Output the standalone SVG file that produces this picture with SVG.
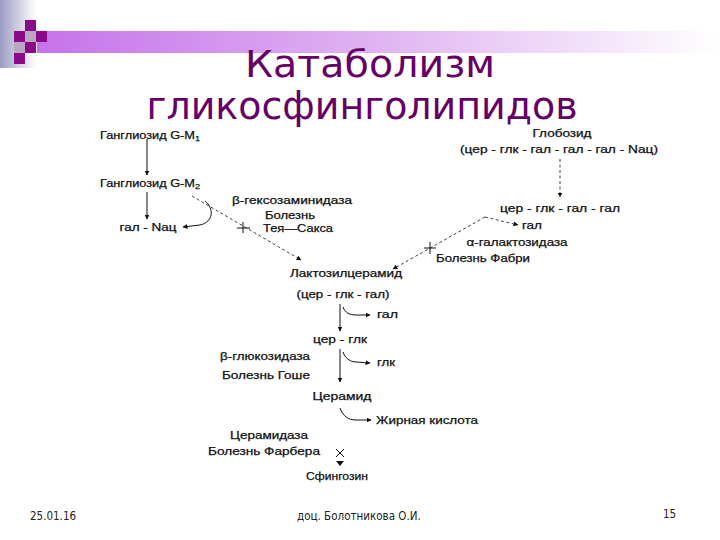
<svg xmlns="http://www.w3.org/2000/svg" width="720" height="540" viewBox="0 0 720 540">
<defs>
<linearGradient id="gStrip" x1="0" y1="0" x2="1" y2="0">
<stop offset="0" stop-color="#9c9cc4"/>
<stop offset="1" stop-color="#ffffff"/>
</linearGradient>
<linearGradient id="gBar" x1="0" y1="0" x2="1" y2="0">
<stop offset="0" stop-color="#c673ea"/>
<stop offset="0.5" stop-color="#e0b4f2"/>
<stop offset="1" stop-color="#ffffff"/>
</linearGradient>
<marker id="ah" viewBox="0 0 10 10" refX="9" refY="5" markerWidth="5" markerHeight="5" orient="auto" markerUnits="userSpaceOnUse">
<path d="M0,0 L10,5 L0,10 z" fill="#111"/>
</marker>
</defs>
<style>
.t{font-family:"Liberation Sans",Arial,sans-serif;font-size:10.5px;fill:#111;text-anchor:middle;stroke:#111;stroke-width:0.25}
.tl{text-anchor:start}
.title{font-family:"DejaVu Sans",Verdana,sans-serif;fill:#660066;text-anchor:middle}
.foot{font-family:"DejaVu Sans Condensed","Liberation Sans Narrow",sans-serif;font-size:11.5px;fill:#222}
.ln{fill:none;stroke:#111;stroke-width:1}
.dl{fill:none;stroke:#111;stroke-width:0.8;stroke-dasharray:3 2.5}
.sq{fill:#8a0a8a}
.sg{fill:#b8a8c0}
</style>
<g id="decor">
<rect x="0" y="0" width="36" height="68" fill="url(#gStrip)"/>
<rect x="37" y="31" width="683" height="22" fill="url(#gBar)"/>
<rect class="sq" x="25" y="20" width="11" height="11"/>
<rect class="sq" x="14" y="31" width="11" height="11"/>
<rect class="sg" x="25" y="31" width="11" height="11"/>
<rect class="sq" x="36" y="31" width="11" height="11"/>
<rect class="sg" x="14" y="42" width="11" height="11"/>
<rect class="sq" x="25" y="42" width="11" height="11"/>
<rect class="sq" x="14" y="53" width="11" height="11"/>
</g>
<g id="title">
<text class="title" x="370" y="77" font-size="37" textLength="250" lengthAdjust="spacingAndGlyphs">Катаболизм</text>
<text class="title" x="362" y="119" font-size="39" textLength="431" lengthAdjust="spacingAndGlyphs">гликосфинголипидов</text>
</g>
<g id="connectors">
<line class="ln" x1="147" y1="139" x2="147" y2="175" marker-end="url(#ah)"/>
<line class="ln" x1="147" y1="192" x2="147" y2="219" marker-end="url(#ah)"/>
<path class="ln" d="M205,201 C214,208 214,222 200,225 L183,227" marker-end="url(#ah)"/>
<line class="dl" x1="192" y1="196" x2="301" y2="260" marker-end="url(#ah)"/>
<path class="ln" d="M237,228 H250 M243,222 V233"/>
<line class="dl" x1="560" y1="159" x2="560" y2="197" marker-end="url(#ah)"/>
<path class="dl" d="M485,217 L518,225" marker-end="url(#ah)"/>
<line class="dl" x1="485" y1="217" x2="393" y2="269" marker-end="url(#ah)"/>
<path class="ln" d="M424,248 H436 M430,242 V254"/>
<line class="ln" x1="340" y1="304" x2="340" y2="331" marker-end="url(#ah)"/>
<path class="ln" d="M343,307 C345,313 350,315 356,315 L370,315" marker-end="url(#ah)"/>
<line class="ln" x1="340" y1="349" x2="340" y2="382" marker-end="url(#ah)"/>
<path class="ln" d="M343,352 C345,358 350,362 356,362 L370,363" marker-end="url(#ah)"/>
<path class="ln" d="M340,408 C343,416 348,420 356,420 L371,420" stroke-width="0.8" marker-end="url(#ah)"/>
<path class="ln" d="M336,449 L344,457 M344,449 L336,457" stroke-width="0.9"/>
<path d="M336,461 L344,461 L340,466 z" fill="#111"/>
</g>
<g id="n-gm1"><text class="t" x="150" y="139" textLength="100" lengthAdjust="spacingAndGlyphs">Ганглиозид G-M<tspan font-size="7.5" dy="2">1</tspan></text></g>
<g id="n-gm2"><text class="t" x="150" y="187" textLength="100" lengthAdjust="spacingAndGlyphs">Ганглиозид G-M<tspan font-size="7.5" dy="2">2</tspan></text></g>
<g id="n-galnac"><text class="t" x="148" y="231" textLength="57" lengthAdjust="spacingAndGlyphs">гал - Nац</text></g>
<g id="n-hexa">
<text class="t" x="292" y="204" textLength="120" lengthAdjust="spacingAndGlyphs">β-гексозаминидаза</text>
<text class="t" x="290" y="219" textLength="50" lengthAdjust="spacingAndGlyphs">Болезнь</text>
<text class="t" x="298" y="232" textLength="70" lengthAdjust="spacingAndGlyphs">Тея—Сакса</text>
</g>
<g id="n-globo">
<text class="t" x="562" y="137" textLength="59" lengthAdjust="spacingAndGlyphs">Глобозид</text>
<text class="t" x="559" y="153" textLength="198" lengthAdjust="spacingAndGlyphs">(цер - глк - гал - гал - гал - Nац)</text>
</g>
<g id="n-cggg"><text class="t" x="560" y="212" textLength="120" lengthAdjust="spacingAndGlyphs">цер - глк - гал - гал</text></g>
<g id="n-gal1"><text class="t tl" x="522" y="229" textLength="20" lengthAdjust="spacingAndGlyphs">гал</text></g>
<g id="n-agal">
<text class="t" x="517" y="246" textLength="101" lengthAdjust="spacingAndGlyphs">α-галактозидаза</text>
<text class="t" x="483" y="262" textLength="94" lengthAdjust="spacingAndGlyphs">Болезнь Фабри</text>
</g>
<g id="n-lactocer">
<text class="t" x="346" y="277" textLength="112" lengthAdjust="spacingAndGlyphs">Лактозилцерамид</text>
<text class="t" x="343" y="298" textLength="93" lengthAdjust="spacingAndGlyphs">(цер - глк - гал)</text>
</g>
<g id="n-gal2"><text class="t tl" x="377" y="318" textLength="21" lengthAdjust="spacingAndGlyphs">гал</text></g>
<g id="n-cg"><text class="t" x="340" y="343" textLength="54" lengthAdjust="spacingAndGlyphs">цер - глк</text></g>
<g id="n-glk"><text class="t tl" x="377" y="366" textLength="18" lengthAdjust="spacingAndGlyphs">глк</text></g>
<g id="n-gauche">
<text class="t" x="265" y="360" textLength="90" lengthAdjust="spacingAndGlyphs">β-глюкозидаза</text>
<text class="t" x="266" y="379" textLength="88" lengthAdjust="spacingAndGlyphs">Болезнь Гоше</text>
</g>
<g id="n-ceramide"><text class="t" x="342" y="400" textLength="59" lengthAdjust="spacingAndGlyphs">Церамид</text></g>
<g id="n-fa"><text class="t tl" x="376" y="424" textLength="102" lengthAdjust="spacingAndGlyphs">Жирная кислота</text></g>
<g id="n-farber">
<text class="t" x="269" y="439" textLength="78" lengthAdjust="spacingAndGlyphs">Церамидаза</text>
<text class="t" x="264" y="455" textLength="112" lengthAdjust="spacingAndGlyphs">Болезнь Фарбера</text>
</g>
<g id="n-sphing"><text class="t" x="337" y="480" textLength="62" lengthAdjust="spacingAndGlyphs">Сфингозин</text></g>
<g id="footer">
<text class="foot" x="30" y="520">25.01.16</text>
<text class="foot" x="297" y="520">доц. Болотникова О.И.</text>
<text class="foot" x="663" y="518">15</text>
</g>
</svg>
